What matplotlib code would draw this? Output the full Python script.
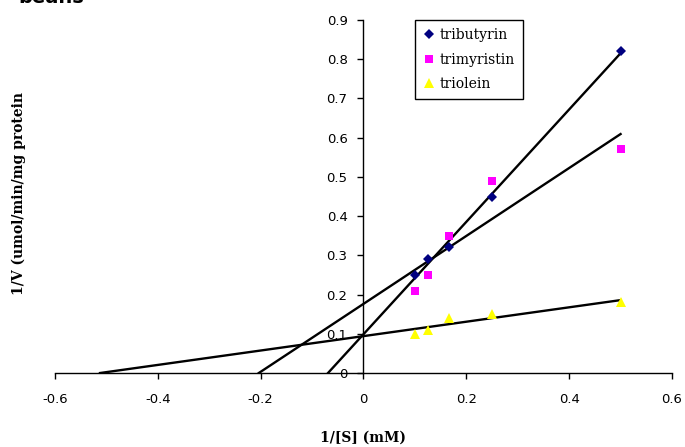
import numpy as np
import matplotlib
matplotlib.use("Agg")
import matplotlib.pyplot as plt

# 1/[S] values (mM^-1)
inv_s = [0.1, 0.125, 0.1667, 0.25, 0.5]

# 1/V values
tributyrin = [0.25, 0.29, 0.32, 0.45, 0.82]
trimyristin = [0.21, 0.25, 0.35, 0.49, 0.57]
triolein = [0.10, 0.11, 0.14, 0.15, 0.18]

series_names = ["tributyrin", "trimyristin", "triolein"]
x_ticks = [-0.6, -0.4, -0.2, 0, 0.2, 0.4, 0.6]
y_ticks = [0, 0.1, 0.2, 0.3, 0.4, 0.5, 0.6, 0.7, 0.8, 0.9]

styles = [
    dict(marker="D", color="#000080", markersize=5.5),
    dict(marker="s", color="#FF00FF", markersize=6),
    dict(marker="^", color="#FFFF00", markersize=7),
]

fig = plt.figure(figsize=(6.85, 4.47), dpi=100)
ax = fig.add_axes([0.0803, 0.1655, 0.9007, 0.7898])

# Lineweaver-Burk trendlines, extended back to the x-intercept
for ys in (tributyrin, trimyristin, triolein):
    slope, icept = np.polyfit(inv_s, ys, 1)
    x0 = -icept / slope
    xs = np.array([x0, max(inv_s)])
    ax.plot(xs, slope * xs + icept, color="black", lw=1.7, zorder=2)

for name, ys, st in zip(series_names, (tributyrin, trimyristin, triolein), styles):
    ax.plot(inv_s, ys, linestyle="none", marker=st["marker"],
            color=st["color"], markersize=st["markersize"],
            markeredgewidth=0, label=name, zorder=3)

ax.set_xlim(-0.6, 0.6)
ax.set_ylim(0, 0.9)
ax.set_xticks(x_ticks)
ax.set_xticklabels([f"{t:g}" for t in x_ticks])
ax.set_yticks(y_ticks)
ax.set_yticklabels([f"{t:g}" for t in y_ticks])

ax.spines["left"].set_position(("data", 0))
ax.spines["top"].set_visible(False)
ax.spines["right"].set_visible(False)
for sp in ("left", "bottom"):
    ax.spines[sp].set_linewidth(1.0)
    ax.spines[sp].set_color("black")

ax.tick_params(axis="x", direction="out", length=4.5, width=1, pad=10,
               labelsize=9.5)
ax.tick_params(axis="y", direction="out", length=4.5, width=1, pad=7,
               labelsize=9.5)
for lab in ax.get_xticklabels() + ax.get_yticklabels():
    lab.set_family("DejaVu Sans")

ax.set_xlabel("1/[S] (mM)", family="DejaVu Serif", weight="bold",
              fontsize=10, va="center")
ax.xaxis.set_label_coords(0.5, -0.184)
ax.set_ylabel("1/V (umol/min/mg protein", family="DejaVu Serif",
              weight="bold", fontsize=10, va="center", ha="center")
ax.yaxis.set_label_coords(-0.058, 0.508)

leg = ax.legend(loc="upper left", bbox_to_anchor=(0.583, 1.0),
                borderaxespad=0, fancybox=False, framealpha=1,
                edgecolor="black", handlelength=0.8, handletextpad=0.4,
                labelspacing=0.75, borderpad=0.6,
                prop={"family": "DejaVu Serif", "size": 10})
leg.get_frame().set_linewidth(1.0)

# title text cut off at the top edge, as in the source image
fig.text(18 / 685, 1 - 3 / 447, "beans", family="DejaVu Sans",
         weight="bold", fontsize=14, va="baseline", ha="left")

fig.savefig("out.png", dpi=100)
plt.close(fig)
